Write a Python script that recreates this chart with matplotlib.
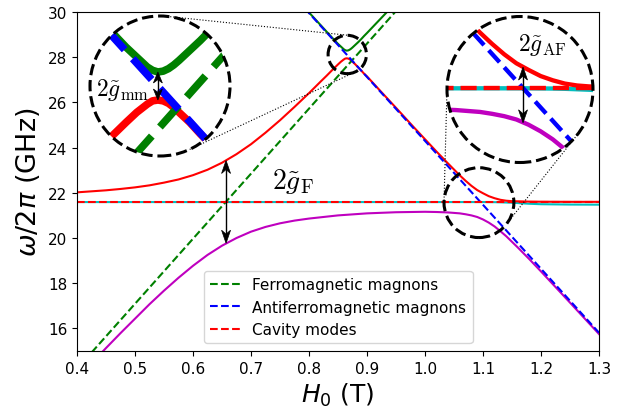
import numpy as np
import matplotlib
matplotlib.use("Agg")
import matplotlib.pyplot as plt
from matplotlib.patches import Circle, Polygon
from matplotlib.lines import Line2D
from matplotlib.transforms import IdentityTransform

# ---------------- data ----------------
H_ferro = [0.40, 0.96]
w_ferro = [14.21, 30.33]
H_afm = [0.78, 1.30]
w_afm = [30.52, 15.81]
H_cav = [0.40, 1.30]
w_cav = [21.59, 21.59]

H_red = [0.40, 0.45, 0.475, 0.50, 0.525, 0.55, 0.575, 0.60, 0.625, 0.65, 0.675, 0.70, 0.725,
         0.75, 0.775, 0.80, 0.82, 0.83, 0.84, 0.845, 0.85, 0.855, 0.8575,
         0.86, 0.8625, 0.865, 0.8675, 0.87, 0.8725, 0.875, 0.88, 0.885, 0.89,
         0.895, 0.90, 0.92, 0.95, 0.98, 1.00, 1.02, 1.04, 1.06, 1.07,
         1.08, 1.09, 1.10, 1.11, 1.12, 1.13, 1.14, 1.15, 1.18, 1.20, 1.25, 1.30]
w_red = [22.02, 22.11, 22.17, 22.24, 22.33, 22.45, 22.59, 22.78, 23.02, 23.33, 23.71, 24.15, 24.66,
         25.21, 25.80, 26.41, 26.92, 27.17, 27.43, 27.555, 27.68, 27.80, 27.85,
         27.90, 27.94, 27.95, 27.94, 27.91, 27.86, 27.80, 27.68, 27.54, 27.41,
         27.27, 27.15, 26.59, 25.76, 24.92, 24.37, 23.82, 23.29, 22.77, 22.53,
         22.31, 22.12, 21.98, 21.85, 21.76, 21.69, 21.65, 21.63, 21.61, 21.605, 21.60, 21.60]

H_green = [0.795, 0.80, 0.82, 0.83, 0.84, 0.845, 0.85, 0.855, 0.8575, 0.86,
           0.8625, 0.865, 0.8675, 0.87, 0.8725, 0.875, 0.88, 0.885, 0.89, 0.895,
           0.90, 0.92, 0.94]
w_green = [30.12, 29.98, 29.42, 29.14, 28.86, 28.725, 28.59, 28.47, 28.41, 28.35,
           28.31, 28.29, 28.30, 28.33, 28.375, 28.43, 28.55, 28.67, 28.80, 28.94,
           29.07, 29.61, 30.15]

H_mag = [0.42, 0.43, 0.44, 0.45, 0.475, 0.50, 0.525, 0.55, 0.575, 0.60, 0.625, 0.65, 0.675, 0.70, 0.725,
         0.75, 0.775, 0.80, 0.85, 0.90, 0.95, 1.00, 1.02, 1.04, 1.06,
         1.07, 1.08, 1.09, 1.10, 1.11, 1.12, 1.13, 1.14, 1.16, 1.18,
         1.20, 1.25, 1.30]
w_mag = [14.32, 14.59, 14.86, 15.13, 15.79, 16.43, 17.07, 17.67, 18.24, 18.77, 19.25, 19.66, 20.00, 20.28, 20.49,
         20.65, 20.77, 20.86, 21.00, 21.09, 21.14, 21.16, 21.15, 21.13, 21.09,
         21.05, 21.00, 20.93, 20.82, 20.68, 20.51, 20.30, 20.08, 19.58, 19.06,
         18.52, 17.14, 15.75]

H_cyan = [0.40, 1.10, 1.12, 1.13, 1.14, 1.15, 1.16, 1.18, 1.20, 1.25, 1.30]
w_cyan = [21.59, 21.59, 21.585, 21.58, 21.57, 21.56, 21.545, 21.515, 21.495, 21.48, 21.475]

# splittings marked by double arrows: (field, upper, lower)
gapF = (0.657, 23.43, 19.77)
gapMM = (0.865, 28.29, 27.95)
gapAF = (1.0955, 22.04, 20.86)

xticks = [0.4, 0.5, 0.6, 0.7, 0.8, 0.9, 1.0, 1.1, 1.2, 1.3]
yticks = [16, 18, 20, 22, 24, 26, 28, 30]

# ---------------- figure ----------------
W, HP = 620, 410
fig = plt.figure(figsize=(W / 100, HP / 100), dpi=100)
ax = fig.add_axes([77 / W, 1 - 352 / HP, (599 - 77) / W, (352 - 13) / HP])


def draw_curves(a, lw, labels=False):
    out = []
    out += a.plot(H_cyan, w_cyan, color='c', lw=lw)
    out += a.plot(H_mag, w_mag, color='m', lw=lw)
    out += a.plot(H_red, w_red, color='r', lw=lw)
    out += a.plot(H_green, w_green, color='g', lw=lw)
    out += a.plot(H_ferro, w_ferro, '--', color='g', lw=lw,
                  label='Ferromagnetic magnons' if labels else None)
    out += a.plot(H_afm, w_afm, '--', color='b', lw=lw,
                  label='Antiferromagnetic magnons' if labels else None)
    out += a.plot(H_cav, w_cav, '--', color='r', lw=lw,
                  label='Cavity modes' if labels else None)
    return out


draw_curves(ax, 1.5, labels=True)
ax.set_xlim(0.4, 1.3)
ax.set_ylim(15, 30)
ax.set_xticks(xticks)
ax.set_yticks(yticks)
ax.set_xticklabels([f"{t:.1f}" for t in xticks])
ax.tick_params(labelsize=11)
ax.set_xlabel(r'$H_0$ (T)', fontsize=18)
ax.set_ylabel(r'$\omega/2\pi$ (GHz)', fontsize=19.5)
ax.legend(loc='lower center', fontsize=11)

ax.text(0.772, 22.55, r'$2\tilde{g}_{\rm F}$', fontsize=20, math_fontfamily='cm',
        ha='center', va='center')

p0 = ax.transData.transform((0, 0))
sx = ax.transData.transform((1, 0))[0] - p0[0]
sy = ax.transData.transform((0, 1))[1] - p0[1]


def double_arrow(a, x, ytop, ybot, hl, hw, lw=1.0):
    pt = np.array(a.transData.transform((x, ytop)))
    pb = np.array(a.transData.transform((x, ybot)))
    v = (pt - pb) / np.linalg.norm(pt - pb)
    perp = np.array([-v[1], v[0]])
    fig.add_artist(Line2D([pb[0] + v[0] * hl * 0.6, pt[0] - v[0] * hl * 0.6],
                          [pb[1] + v[1] * hl * 0.6, pt[1] - v[1] * hl * 0.6],
                          transform=IdentityTransform(), color='k', lw=lw))
    for tip, d in ((pt, v), (pb, -v)):
        base = tip - d * hl
        pts = [tip, base + perp * hw / 2, tip - d * hl * 0.7, base - perp * hw / 2]
        fig.add_artist(Polygon(pts, closed=True, transform=IdentityTransform(),
                               fc='k', ec='k', lw=0.5))


double_arrow(ax, *gapF, hl=13, hw=9)


def ext_tangents(c1, r1, c2, r2):
    c1 = np.array(c1, float); c2 = np.array(c2, float)
    d = c2 - c1
    D = np.linalg.norm(d)
    u = d / D
    perp = np.array([-u[1], u[0]])
    cs = (r1 - r2) / D
    sn = np.sqrt(1 - cs ** 2)
    res = []
    for s in (1, -1):
        n = u * cs + s * perp * sn
        res.append((c1 + r1 * n, c2 + r2 * n))
    return res


insets = [
    dict(center=(0.866, 28.12), M=3.65, pos=(160, HP - 87), R=70,
         text=r'$2\tilde{g}_{\rm mm}$', tpos=(0.23, 0.48), gap=gapMM, hl=11, hw=9),
    dict(center=(1.093, 21.565), M=2.09, pos=(520, HP - 90.5), R=73,
         text=r'$2\tilde{g}_{\rm AF}$', tpos=(0.65, 0.81), gap=gapAF, hl=13, hw=9),
]

for ins in insets:
    (hc, wc), M, (cx, cy), R = ins['center'], ins['M'], ins['pos'], ins['R']
    ain = fig.add_axes([(cx - R) / W, (cy - R) / HP, 2 * R / W, 2 * R / HP])
    ain.set_xlim(hc - R / (sx * M), hc + R / (sx * M))
    ain.set_ylim(wc - R / (sy * M), wc + R / (sy * M))
    ain.set_axis_off()
    bg = Circle((0.5, 0.5), 0.5, transform=ain.transAxes, fc='white', ec='none', zorder=0)
    ain.add_patch(bg)
    for ln in draw_curves(ain, 1.5 * M):
        ln.set_clip_path(bg)
    ain.add_patch(Circle((0.5, 0.5), 0.5, transform=ain.transAxes, fill=False,
                         ec='k', ls='--', lw=2.2, zorder=5, clip_on=False))
    ain.text(*ins['tpos'], ins['text'], transform=ain.transAxes, fontsize=17,
             math_fontfamily='cm', ha='center', va='center', zorder=6)
    double_arrow(ain, *ins['gap'], hl=ins['hl'], hw=ins['hw'])
    # small marking circle in main axes
    pc = ax.transData.transform((hc, wc))
    r = R / M
    ax.add_patch(Circle(pc, r, transform=IdentityTransform(), fill=False, ec='k',
                        ls='--', lw=2.2, clip_on=False, zorder=5))
    for p1, p2 in ext_tangents((cx, cy), R, pc, r):
        fig.add_artist(Line2D([p1[0], p2[0]], [p1[1], p2[1]], transform=IdentityTransform(),
                              color='k', ls=':', lw=0.8))

fig.savefig('out.png', dpi=100)
